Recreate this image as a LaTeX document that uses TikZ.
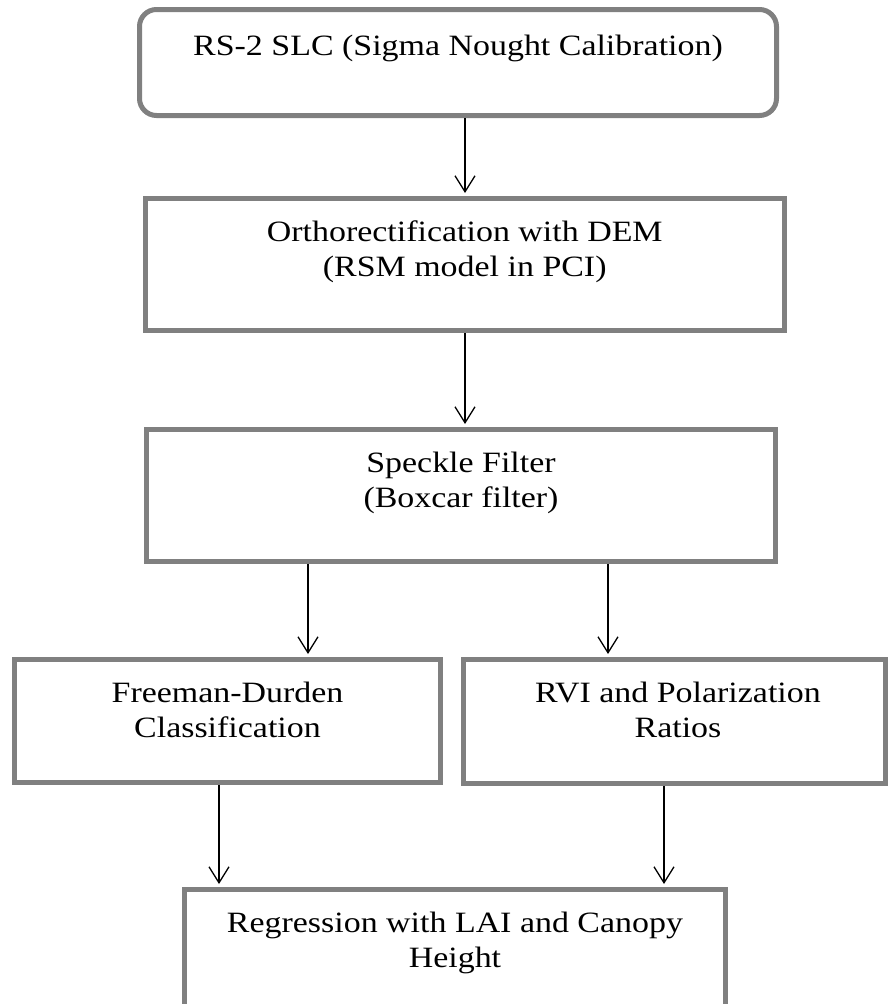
\documentclass[tikz,border=0pt]{standalone}
\usepackage{fontspec}
\setmainfont[FakeStretch=1.15]{Liberation Serif}
\usetikzlibrary{arrows.meta}
\definecolor{boxgray}{RGB}{128,128,128}
\tikzset{
  box/.style={draw=boxgray, line width=5pt, fill=none, inner sep=0pt},
  lbl/.style={anchor=north, inner sep=0pt, align=center, text=black,
              font=\fontsize{29.5}{35.5}\selectfont},
  arr/.style={draw=black, line width=1.3pt, shorten >=3pt,
              -{Straight Barb[length=16pt,width=20pt,line width=1.3pt]}}
}
\begin{document}
\begin{tikzpicture}[x=1pt,y=-1pt]
\useasboundingbox (0,0) rectangle (888,1004);
\clip (0,0) rectangle (888,1004);
\fill[white] (0,0) rectangle (888,1004);
% boxes
\node[box, rounded corners=17pt, minimum width=637pt, minimum height=106pt] (b1) at (458,62.5) {};
\node[box, minimum width=639.5pt, minimum height=132pt] (b2) at (464.75,264.5) {};
\node[box, minimum width=629pt, minimum height=132pt] (b3) at (461,495.5) {};
\node[box, minimum width=426pt, minimum height=123pt] (b4) at (227.5,721) {};
\node[box, minimum width=422pt, minimum height=124pt] (b5) at (674.5,721.5) {};
\node[box, minimum width=541pt, minimum height=140pt] (b6) at (455,959.5) {};
% texts (first baseline = top + ~43)
\node[lbl] (t1) at (458,30.15) {\strut RS-2 SLC (Sigma Nought Calibration)};
\node[lbl] (t2) at (464.75,216.15) {\strut Orthorectification with DEM\\(RSM model in PCI)};
\node[lbl] (t3) at (461,447.15) {\strut Speckle Filter\\(Boxcar filter)};
\node[lbl] (t4) at (227.5,677.15) {\strut Freeman-Durden\\Classification};
\node[lbl] (t5) at (678,677.15) {\strut RVI and Polarization\\Ratios};
\node[lbl] (t6) at (455,907.15) {\strut Regression with LAI and Canopy\\Height};
% arrow x positions
\coordinate (xa) at (465,0);
\coordinate (xl) at (308,0);
\coordinate (xr) at (608,0);
\coordinate (xll) at (219,0);
\coordinate (xrr) at (664,0);
% connectors
\draw[arr] (b1.south -| xa) -- (b2.north -| xa);
\draw[arr] (b2.south -| xa) -- (b3.north -| xa);
\draw[arr] (b3.south -| xl) -- (b4.north -| xl);
\draw[arr] (b3.south -| xr) -- (b5.north -| xr);
\draw[arr] (b4.south -| xll) -- (b6.north -| xll);
\draw[arr] (b5.south -| xrr) -- (b6.north -| xrr);
\end{tikzpicture}
\end{document}
